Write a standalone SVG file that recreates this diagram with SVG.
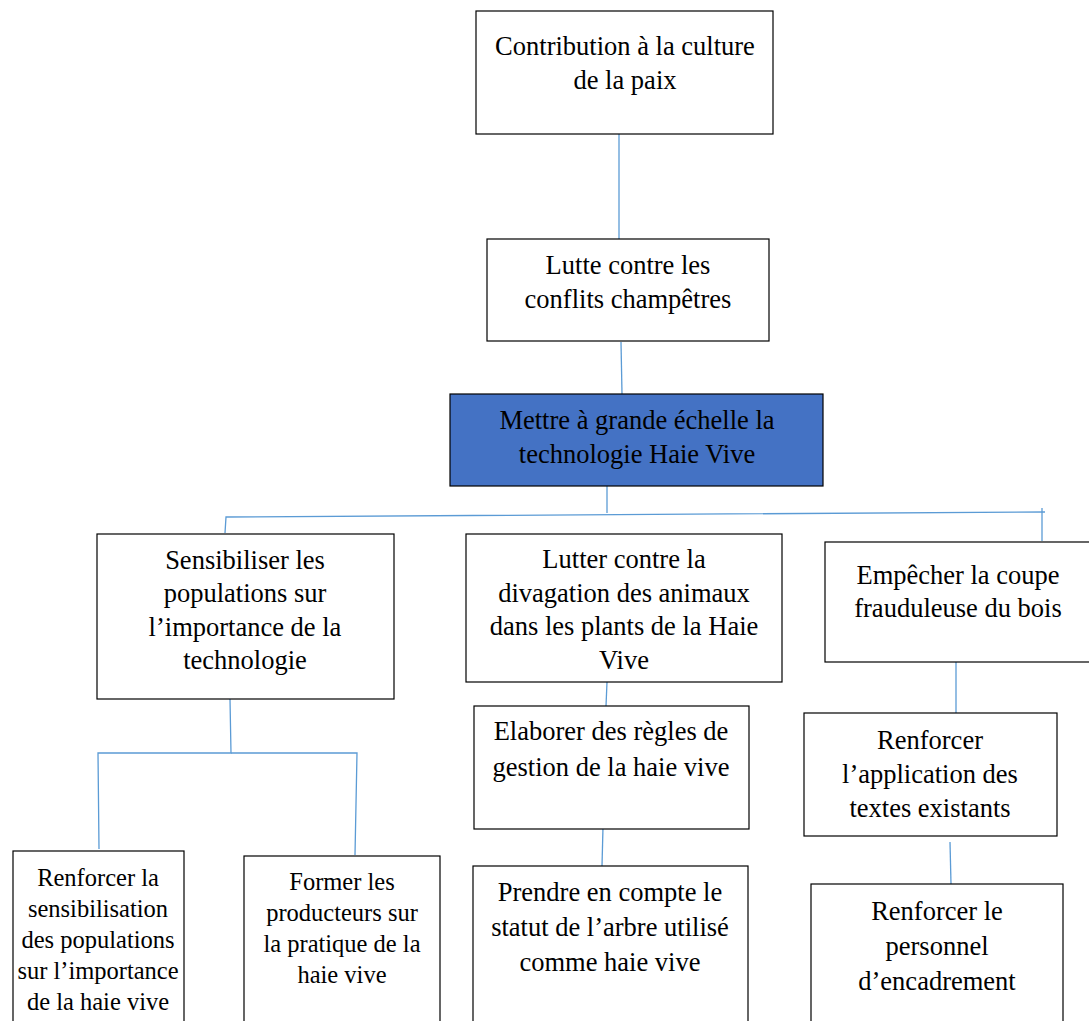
<svg xmlns="http://www.w3.org/2000/svg" width="1089" height="1021" viewBox="0 0 1089 1021">
<style>
.box{fill:#fff;stroke:#000;stroke-width:1.2}
.blue{fill:#4472C4;stroke:#000;stroke-width:1.2}
.t{font-family:"Liberation Serif","Times New Roman",serif;font-size:26.5px;fill:#000;text-anchor:middle}
.s{font-size:24.5px}
.c{stroke:#5B9BD5;stroke-width:1.3;fill:none}
</style>
<rect width="1089" height="1021" fill="#fff"/>
<g id="connectors">
<line class="c" x1="619" y1="134" x2="619" y2="239"/>
<line class="c" x1="621" y1="342" x2="622" y2="394"/>
<line class="c" x1="607" y1="486" x2="607" y2="513"/>
<polyline class="c" points="225,533 226,517 1045,512"/>
<line class="c" x1="1042" y1="508" x2="1042" y2="541"/>
<polyline class="c" points="230,699 231,753 98,753 99,849"/>
<polyline class="c" points="231,753 357,753 355,855"/>
<line class="c" x1="607" y1="682" x2="606" y2="706"/>
<line class="c" x1="603" y1="827" x2="602" y2="866"/>
<line class="c" x1="956" y1="662" x2="956" y2="713"/>
<line class="c" x1="950" y1="842" x2="951" y2="884"/>
</g>
<g id="n1"><rect class="box" x="476" y="11" width="297" height="123"/>
<text class="t" x="625" y="55">Contribution à la culture</text><text class="t" x="625" y="89">de la paix</text></g>
<g id="n2"><rect class="box" x="487" y="239" width="282" height="102"/>
<text class="t" x="628" y="274">Lutte contre les</text><text class="t" x="628" y="308">conflits champêtres</text></g>
<g id="n3"><rect class="blue" x="450" y="394" width="373" height="92"/>
<text class="t" x="637" y="429">Mettre à grande échelle la</text><text class="t" x="637" y="463">technologie Haie Vive</text></g>
<g id="n4"><rect class="box" x="97" y="534" width="297" height="165"/>
<text class="t" x="245" y="569">Sensibiliser les</text><text class="t" x="245" y="602">populations sur</text><text class="t" x="245" y="636">l’importance de la</text><text class="t" x="245" y="669">technologie</text></g>
<g id="n5"><rect class="box" x="466" y="534" width="316" height="148"/>
<text class="t" x="624" y="568">Lutter contre la</text><text class="t" x="624" y="602">divagation des animaux</text><text class="t" x="624" y="635">dans les plants de la Haie</text><text class="t" x="624" y="669">Vive</text></g>
<g id="n6"><rect class="box" x="825" y="542" width="270" height="120"/>
<text class="t" x="958" y="584">Empêcher la coupe</text><text class="t" x="958" y="617">frauduleuse du bois</text></g>
<g id="n7"><rect class="box" x="13" y="851" width="171" height="180"/>
<text class="t s" x="98" y="886">Renforcer la</text><text class="t s" x="98" y="917">sensibilisation</text><text class="t s" x="98" y="948">des populations</text><text class="t s" x="98" y="979">sur l’importance</text><text class="t s" x="98" y="1010">de la haie vive</text></g>
<g id="n8"><rect class="box" x="244" y="856" width="196" height="175"/>
<text class="t s" x="342" y="890">Former les</text><text class="t s" x="342" y="921">producteurs sur</text><text class="t s" x="342" y="952">la pratique de la</text><text class="t s" x="342" y="983">haie vive</text></g>
<g id="n9"><rect class="box" x="474" y="706" width="275" height="123"/>
<text class="t" x="611" y="740">Elaborer des règles de</text><text class="t" x="611" y="776">gestion de la haie vive</text></g>
<g id="n10"><rect class="box" x="473" y="866" width="275" height="165"/>
<text class="t" x="610" y="901">Prendre en compte le</text><text class="t" x="610" y="936">statut de l’arbre utilisé</text><text class="t" x="610" y="971">comme haie vive</text></g>
<g id="n11"><rect class="box" x="804" y="713" width="253" height="123"/>
<text class="t" x="930" y="749">Renforcer</text><text class="t" x="930" y="783">l’application des</text><text class="t" x="930" y="817">textes existants</text></g>
<g id="n12"><rect class="box" x="811" y="884" width="252" height="147"/>
<text class="t" x="937" y="920">Renforcer le</text><text class="t" x="937" y="955">personnel</text><text class="t" x="937" y="990">d’encadrement</text></g>
</svg>
